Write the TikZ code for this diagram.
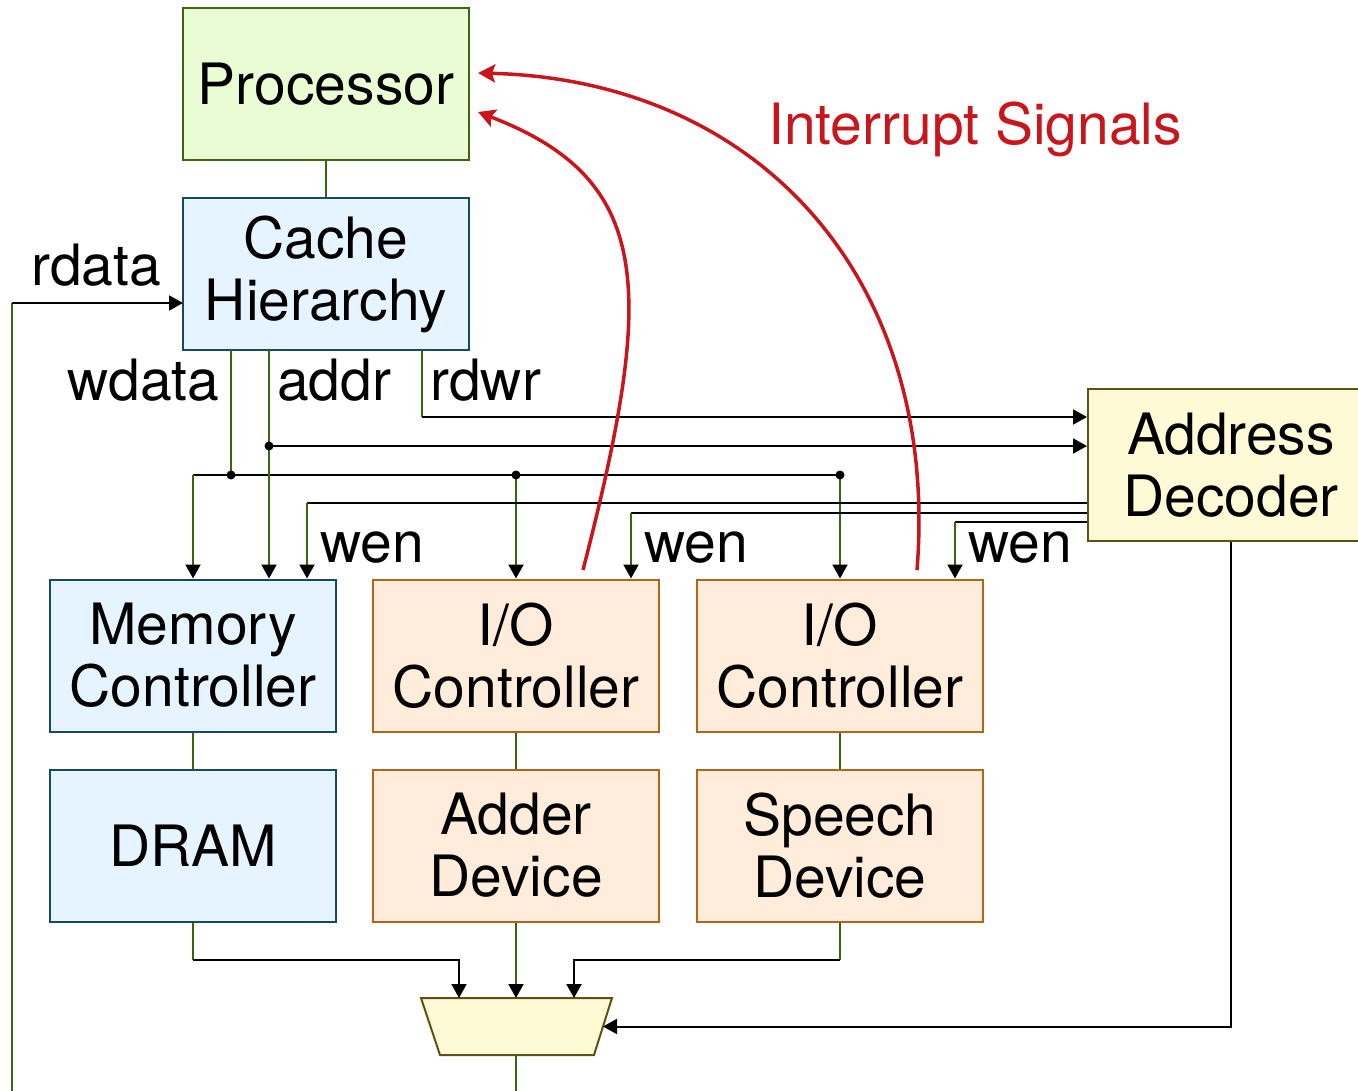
\documentclass[tikz,border=0pt]{standalone}
\usepackage{fontspec}
\setmainfont{TeX Gyre Heros}
\usetikzlibrary{arrows.meta}
\definecolor{gfill}{RGB}{234,252,212}
\definecolor{gdraw}{RGB}{62,100,20}
\definecolor{bfill}{RGB}{230,244,255}
\definecolor{bdraw}{RGB}{22,75,95}
\definecolor{ofill}{RGB}{255,236,218}
\definecolor{odraw}{RGB}{180,100,25}
\definecolor{yfill}{RGB}{255,250,214}
\definecolor{ydraw}{RGB}{95,80,20}
\definecolor{wire}{RGB}{60,100,15}
\definecolor{intred}{RGB}{200,22,28}
\tikzset{
  bigfont/.style={font=\fontsize{57}{62}\selectfont},
  blockbox/.style={draw, line width=2pt, minimum width=286pt, minimum height=152pt, inner sep=0pt, align=center, bigfont},
  greenbox/.style={blockbox, fill=gfill, draw=gdraw},
  bluebox/.style={blockbox, fill=bfill, draw=bdraw},
  orangebox/.style={blockbox, fill=ofill, draw=odraw},
  yellowbox/.style={blockbox, fill=yfill, draw=ydraw},
  vwire/.style={draw=wire, line width=2pt},
  hwire/.style={draw=black, line width=2pt},
  tip/.style={-{Triangle[width=15pt,length=14pt,color=black]}},
  lbl/.style={anchor=base west, inner sep=0pt, bigfont},
  joint/.style={circle, fill=black, inner sep=0pt, minimum size=9pt},
  irq/.style={draw=intred, line width=3.5pt, -{Stealth[width=18pt,length=17pt,inset=3pt]}},
}
\begin{document}
\begin{tikzpicture}[x=1pt,y=-1pt]
\useasboundingbox (0,0) rectangle (1358,1091);

% blocks
\node[greenbox] (proc) at (326,84) {Processor};
\node[bluebox] (cache) at (326,274) {Cache\\Hierarchy};
\node[yellowbox] (dec) at (1231,465) {Address\\Decoder};
\node[bluebox] (mc) at (193,655.5) {Memory\\Controller};
\node[orangebox] (io1) at (516,655.5) {I/O\\Controller};
\node[orangebox] (io2) at (840,655.5) {I/O\\Controller};
\node[bluebox] (dram) at (193,845.5) {DRAM};
\node[orangebox] (adder) at (516,845.5) {Adder\\Device};
\node[orangebox] (speech) at (840,845.5) {Speech\\Device};

% mux
\coordinate (muxTL) at (421,998);
\coordinate (muxTR) at (612,998);
\coordinate (muxBR) at (594,1055);
\coordinate (muxBL) at (440,1055);
\draw[fill=yfill, draw=ydraw, line width=2pt, line join=miter] (muxTL) -- (muxTR) -- (muxBR) -- (muxBL) -- cycle;
\coordinate (muxR) at (603,1026.5);
\coordinate (muxIn1) at (459,998);
\coordinate (muxIn2) at (516,998);
\coordinate (muxIn3) at (574,998);
\coordinate (muxOut) at (516,1055);
\coordinate (muxEnd) at (516,1096);

% processor - cache
\draw[vwire] (proc.south) -- (cache.north);

% rdata
\coordinate (rdS) at (12,1096);
\coordinate (rdK) at (12,303);
\coordinate (rdE) at (183,303);
\draw[vwire] (rdS) -- (rdK);
\draw[hwire, tip] (rdK) -- (rdE);

% wdata
\coordinate (wdS) at (231,350);
\coordinate (wdJ) at (231,475);
\coordinate (busL) at (193,475);
\coordinate (busM) at (516,475);
\coordinate (busR) at (840,475);
\draw[vwire] (wdS) -- (wdJ);
\draw[hwire] (busL) -- (busR);
\draw[vwire, tip] (busL) -- (mc.north -| busL);
\draw[vwire, tip] (busM) -- (io1.north);
\draw[vwire, tip] (busR) -- (io2.north);
\node[joint] (j1) at (wdJ) {};
\node[joint] (j2) at (busM) {};
\node[joint] (j3) at (busR) {};

% addr
\coordinate (adS) at (269,350);
\coordinate (adJ) at (269,446);
\draw[vwire, tip] (adS) -- (adS |- mc.north);
\draw[hwire, tip] (adJ) -- (adJ -| dec.west);
\node[joint] (j4) at (adJ) {};

% rdwr
\coordinate (rwS) at (422,350);
\coordinate (rwK) at (422,417);
\draw[vwire] (rwS) -- (rwK);
\draw[hwire, tip] (rwK) -- (rwK -| dec.west);

% wen lines
\coordinate (we1) at (307,503);
\coordinate (we2) at (631,512.5);
\coordinate (we3) at (955,522);
\draw[hwire] (we1 -| dec.west) -- (we1);
\draw[vwire, tip] (we1) -- (we1 |- mc.north);
\draw[hwire] (we2 -| dec.west) -- (we2);
\draw[vwire, tip] (we2) -- (we2 |- io1.north);
\draw[hwire] (we3 -| dec.west) -- (we3);
\draw[vwire, tip] (we3) -- (we3 |- io2.north);

% controllers to devices
\draw[vwire] (mc.south) -- (dram.north);
\draw[vwire] (io1.south) -- (adder.north);
\draw[vwire] (io2.south) -- (speech.north);

% devices to mux
\coordinate (dK) at (193,960);
\coordinate (sK) at (840,960);
\draw[vwire] (dram.south) -- (dK);
\draw[hwire, tip] (dK) -- (muxIn1 |- dK) -- (muxIn1);
\draw[vwire, tip] (adder.south) -- (muxIn2);
\draw[vwire] (speech.south) -- (sK);
\draw[hwire, tip] (sK) -- (muxIn3 |- sK) -- (muxIn3);

% decoder to mux select
\coordinate (decK) at (1231,1026.5);
\draw[hwire, tip] (dec.south) -- (decK) -- (muxR);

% mux output
\draw[vwire] (muxOut) -- (muxEnd);

% labels
\node[lbl] (lrdata) at (31,286) {rdata};
\node[lbl] (lwdata) at (67,400.5) {wdata};
\node[lbl] (laddr) at (277,400.5) {addr};
\node[lbl] (lrdwr) at (430,400.5) {rdwr};
\node[lbl] (lwen1) at (320,562.5) {wen};
\node[lbl] (lwen2) at (644,562.5) {wen};
\node[lbl] (lwen3) at (968,562.5) {wen};
\node[lbl, text=intred] (lirq) at (768,145) {Interrupt Signals};

% interrupt curves
\coordinate (irq1S) at (583,570);
\coordinate (irq1E) at (478,112);
\coordinate (irq2S) at (917,570);
\coordinate (irq2E) at (478,73);
\draw[irq] (irq1S) .. controls (655,290) and (655,180) .. (irq1E);
\draw[irq] (irq2S) .. controls (940,280) and (760,80) .. (irq2E);
\end{tikzpicture}
\end{document}
